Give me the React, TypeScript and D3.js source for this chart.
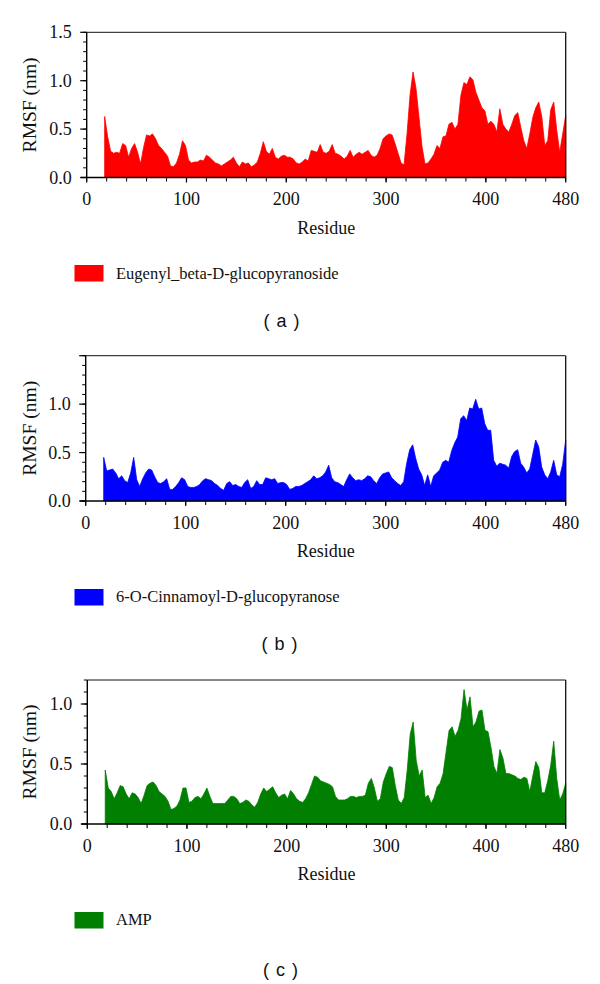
import React from "react";
import * as d3 from "d3";

// Residue grid shared by the three RMSF profiles
const residues = [
  18, 21, 24, 27, 30, 33, 36, 39, 42, 45, 48, 51, 54, 57, 60, 63, 66, 69, 72, 75,
  78, 81, 84, 87, 90, 93, 96, 99, 102, 105, 108, 111, 114, 117, 120, 123, 126, 129, 132, 135,
  138, 141, 144, 147, 150, 153, 156, 159, 162, 165, 168, 171, 174, 177, 180, 183, 186, 189, 192, 195,
  198, 201, 204, 207, 210, 213, 216, 219, 222, 225, 228, 231, 234, 237, 240, 243, 246, 249, 252, 255,
  258, 261, 264, 267, 270, 273, 276, 279, 282, 285, 288, 291, 294, 297, 300, 303, 306, 309, 312, 315,
  318, 321, 324, 327, 330, 333, 336, 339, 342, 345, 348, 351, 354, 357, 360, 363, 366, 369, 372, 375,
  378, 381, 384, 387, 390, 393, 396, 399, 402, 405, 408, 411, 414, 417, 420, 423, 426, 429, 432, 435,
  438, 441, 444, 447, 450, 453, 456, 459, 462, 465, 468, 471, 474, 477, 480,
];

const rmsfEugenyl = [
  0.63, 0.42, 0.27, 0.25, 0.26, 0.25, 0.35, 0.33, 0.21, 0.30, 0.35, 0.26, 0.14, 0.31, 0.44, 0.43, 0.45, 0.40, 0.33, 0.30,
  0.26, 0.22, 0.12, 0.11, 0.15, 0.24, 0.38, 0.33, 0.18, 0.15, 0.16, 0.16, 0.18, 0.17, 0.23, 0.21, 0.18, 0.15, 0.14, 0.12,
  0.14, 0.16, 0.18, 0.21, 0.15, 0.11, 0.16, 0.14, 0.15, 0.11, 0.13, 0.16, 0.25, 0.37, 0.27, 0.24, 0.30, 0.21, 0.19, 0.22,
  0.23, 0.21, 0.21, 0.19, 0.15, 0.14, 0.16, 0.19, 0.17, 0.28, 0.27, 0.26, 0.34, 0.26, 0.25, 0.27, 0.34, 0.25, 0.24, 0.22,
  0.19, 0.22, 0.28, 0.21, 0.24, 0.26, 0.24, 0.26, 0.28, 0.23, 0.21, 0.23, 0.30, 0.40, 0.43, 0.45, 0.44, 0.35, 0.25, 0.15,
  0.13, 0.45, 0.85, 1.09, 0.92, 0.62, 0.32, 0.14, 0.15, 0.19, 0.24, 0.33, 0.30, 0.42, 0.43, 0.55, 0.57, 0.50, 0.55, 0.85,
  0.98, 0.96, 1.04, 1.01, 0.88, 0.80, 0.72, 0.69, 0.55, 0.58, 0.55, 0.47, 0.71, 0.55, 0.50, 0.47, 0.55, 0.64, 0.67, 0.52,
  0.38, 0.30, 0.45, 0.62, 0.72, 0.78, 0.63, 0.33, 0.38, 0.70, 0.78, 0.49, 0.26, 0.45, 0.64,
];

const rmsfCinnamoyl = [
  0.45, 0.31, 0.32, 0.33, 0.29, 0.23, 0.26, 0.21, 0.19, 0.29, 0.45, 0.22, 0.15, 0.23, 0.29, 0.33, 0.32, 0.25, 0.19, 0.18,
  0.20, 0.23, 0.12, 0.12, 0.15, 0.19, 0.24, 0.22, 0.15, 0.14, 0.14, 0.15, 0.17, 0.21, 0.23, 0.22, 0.21, 0.18, 0.16, 0.13,
  0.11, 0.18, 0.20, 0.16, 0.17, 0.15, 0.14, 0.19, 0.22, 0.13, 0.15, 0.21, 0.17, 0.17, 0.24, 0.23, 0.22, 0.23, 0.18, 0.19,
  0.19, 0.17, 0.12, 0.13, 0.15, 0.15, 0.16, 0.18, 0.20, 0.22, 0.26, 0.23, 0.24, 0.26, 0.30, 0.37, 0.24, 0.20, 0.19, 0.17,
  0.15, 0.22, 0.28, 0.24, 0.21, 0.22, 0.21, 0.23, 0.26, 0.25, 0.21, 0.18, 0.24, 0.28, 0.29, 0.30, 0.24, 0.21, 0.18, 0.16,
  0.20, 0.39, 0.53, 0.58, 0.44, 0.33, 0.27, 0.16, 0.27, 0.15, 0.26, 0.29, 0.32, 0.40, 0.42, 0.40, 0.52, 0.60, 0.66, 0.85,
  0.88, 0.83, 0.96, 0.95, 1.05, 0.95, 0.96, 0.80, 0.73, 0.73, 0.42, 0.36, 0.39, 0.38, 0.37, 0.34, 0.46, 0.51, 0.53, 0.39,
  0.35, 0.29, 0.33, 0.48, 0.63, 0.56, 0.35, 0.27, 0.23, 0.30, 0.42, 0.27, 0.25, 0.38, 0.63,
];

const rmsfAMP = [
  0.45, 0.30, 0.27, 0.21, 0.26, 0.32, 0.31, 0.25, 0.21, 0.26, 0.25, 0.22, 0.17, 0.24, 0.32, 0.34, 0.35, 0.32, 0.27, 0.25,
  0.23, 0.19, 0.12, 0.13, 0.15, 0.20, 0.30, 0.30, 0.18, 0.19, 0.22, 0.23, 0.21, 0.25, 0.30, 0.23, 0.17, 0.17, 0.17, 0.17,
  0.17, 0.20, 0.23, 0.23, 0.21, 0.17, 0.18, 0.20, 0.19, 0.16, 0.14, 0.18, 0.25, 0.30, 0.27, 0.29, 0.31, 0.26, 0.22, 0.24,
  0.25, 0.21, 0.28, 0.25, 0.21, 0.19, 0.18, 0.21, 0.26, 0.33, 0.40, 0.39, 0.36, 0.35, 0.34, 0.33, 0.31, 0.23, 0.20, 0.20,
  0.20, 0.21, 0.23, 0.23, 0.22, 0.23, 0.23, 0.24, 0.34, 0.38, 0.30, 0.19, 0.21, 0.35, 0.42, 0.48, 0.47, 0.32, 0.20, 0.17,
  0.22, 0.45, 0.75, 0.85, 0.53, 0.40, 0.45, 0.22, 0.24, 0.17, 0.22, 0.31, 0.34, 0.42, 0.60, 0.78, 0.81, 0.73, 0.78, 0.88,
  1.12, 0.95, 1.06, 0.81, 0.85, 0.94, 0.95, 0.78, 0.77, 0.64, 0.48, 0.42, 0.62, 0.55, 0.42, 0.42, 0.41, 0.40, 0.38, 0.37,
  0.39, 0.38, 0.27, 0.40, 0.52, 0.47, 0.26, 0.26, 0.36, 0.49, 0.69, 0.38, 0.20, 0.25, 0.34,
];

const seriesNames = [
  "Eugenyl_beta-D-glucopyranoside",
  "6-O-Cinnamoyl-D-glucopyranose",
  "AMP",
];
const panelLetters = ["a", "b", "c"];
const xTickValues = [0, 100, 200, 300, 400, 480];
const yTickLabelsA = [0, 0.5, 1.0, 1.5];
const yTickLabelsB = [0, 0.5, 1.0];
const yTickLabelsC = [0, 0.5, 1.0];
const yMaxes = [1.5, 1.5, 1.2];
const xLabel = "Residue";
const yLabel = "RMSF (nm)";

const colors = ["#ff0000", "#0000ff", "#007f00"];

const panels = [
  { values: rmsfEugenyl, yLabels: yTickLabelsA, left: 86.7, right: 565.7, top: 32.3, bottom: 177.5, rectY: 265, textY: 278.5, capY: 327, capX: 282 },
  { values: rmsfCinnamoyl, yLabels: yTickLabelsB, left: 85.7, right: 565.7, top: 355.7, bottom: 501, rectY: 589, textY: 602, capY: 650, capX: 280 },
  { values: rmsfAMP, yLabels: yTickLabelsC, left: 87.3, right: 565.7, top: 680, bottom: 824, rectY: 912, textY: 925, capY: 976, capX: 281 },
];

const serif = "'Liberation Serif', 'Times New Roman', serif";
const sans = "'Liberation Sans', Arial, sans-serif";

function Panel({ idx }: { idx: number }) {
  const p = panels[idx];
  const yMax = yMaxes[idx];
  const x = d3.scaleLinear().domain([0, 480]).range([p.left, p.right]);
  const y = d3.scaleLinear().domain([0, yMax]).range([p.bottom, p.top]);
  const data = residues.map((r, i) => ({ r, v: p.values[i] })).filter((d) => d.v !== undefined);
  const area = d3
    .area<{ r: number; v: number }>()
    .x((d) => x(d.r))
    .y0(y(0))
    .y1((d) => y(d.v))
    .curve(d3.curveLinear);
  const minorX = d3.range(0, 481, 20);
  const minorY = d3.range(0, Math.round(yMax * 10) + 1).map((k) => k / 10);
  const majorY = [0, 0.5, 1.0, 1.5].filter((v) => v <= yMax + 1e-9);
  const midX = (p.left + p.right) / 2;
  const midY = (p.top + p.bottom) / 2;
  return (
    <g>
      <path d={area(data) || ""} fill={colors[idx]} stroke={colors[idx]} strokeWidth={0.8} strokeLinejoin="miter" />
      {/* frame */}
      <line x1={p.left} x2={p.right} y1={p.top} y2={p.top} stroke="#111" strokeWidth={1} />
      <line x1={p.right} x2={p.right} y1={p.top} y2={p.bottom} stroke="#111" strokeWidth={1.3} />
      {/* axes */}
      <line x1={p.left - 6} x2={p.right} y1={p.bottom} y2={p.bottom} stroke="#000" strokeWidth={1.4} />
      <line x1={p.left} x2={p.left} y1={p.top} y2={p.bottom} stroke="#000" strokeWidth={1.4} />
      {minorX.map((t) => (
        <line key={"mx" + t} x1={x(t)} x2={x(t)} y1={p.bottom} y2={p.bottom + 4} stroke="#000" strokeWidth={1} />
      ))}
      {xTickValues.map((t) => (
        <g key={"xt" + t}>
          <line x1={x(t)} x2={x(t)} y1={p.bottom} y2={p.bottom + 5} stroke="#000" strokeWidth={1.2} />
          <text x={x(t)} y={p.bottom + 27.5} textAnchor="middle" fontFamily={serif} fontSize={18} fill="#111">
            {t}
          </text>
        </g>
      ))}
      {minorY.map((t) => (
        <line key={"my" + t} x1={p.left - 3.5} x2={p.left} y1={y(t)} y2={y(t)} stroke="#000" strokeWidth={1} />
      ))}
      {majorY.map((t) => (
        <line key={"My" + t} x1={p.left - 6.5} x2={p.left} y1={y(t)} y2={y(t)} stroke="#000" strokeWidth={1.2} />
      ))}
      {p.yLabels.map((t) => (
        <text key={"yl" + t} x={p.left - 15} y={y(t) + 6} textAnchor="end" fontFamily={serif} fontSize={18} fill="#111">
          {d3.format(".1f")(t)}
        </text>
      ))}
      <text x={midX} y={p.bottom + 56} textAnchor="middle" fontFamily={serif} fontSize={18} fill="#111">
        {xLabel}
      </text>
      <text
        transform={`translate(${36},${midY}) rotate(-90)`}
        textAnchor="middle"
        fontFamily={serif}
        fontSize={18}
        fill="#111"
        textLength={95}
        lengthAdjust="spacingAndGlyphs"
      >
        {yLabel}
      </text>
      {/* legend */}
      <rect x={74.5} y={p.rectY} width={29} height={16.5} fill={colors[idx]} />
      <text x={116} y={p.textY} fontFamily={serif} fontSize={16.5} fill="#111">
        {seriesNames[idx]}
      </text>
      <text x={p.capX} y={p.capY} textAnchor="middle" fontFamily={sans} fontSize={18} letterSpacing={1} fill="#111" style={{ whiteSpace: "pre" }}>
        {`( ${panelLetters[idx]} )`}
      </text>
    </g>
  );
}

export default function App() {
  return (
    <svg
      width={600}
      height={984}
      viewBox="0 0 600 984"
      style={{ position: "absolute", left: 0, top: 0, background: "#fff" }}
    >
      <rect x={0} y={0} width={600} height={984} fill="#fff" />
      {[0, 1, 2].map((i) => (
        <Panel key={i} idx={i} />
      ))}
    </svg>
  );
}
